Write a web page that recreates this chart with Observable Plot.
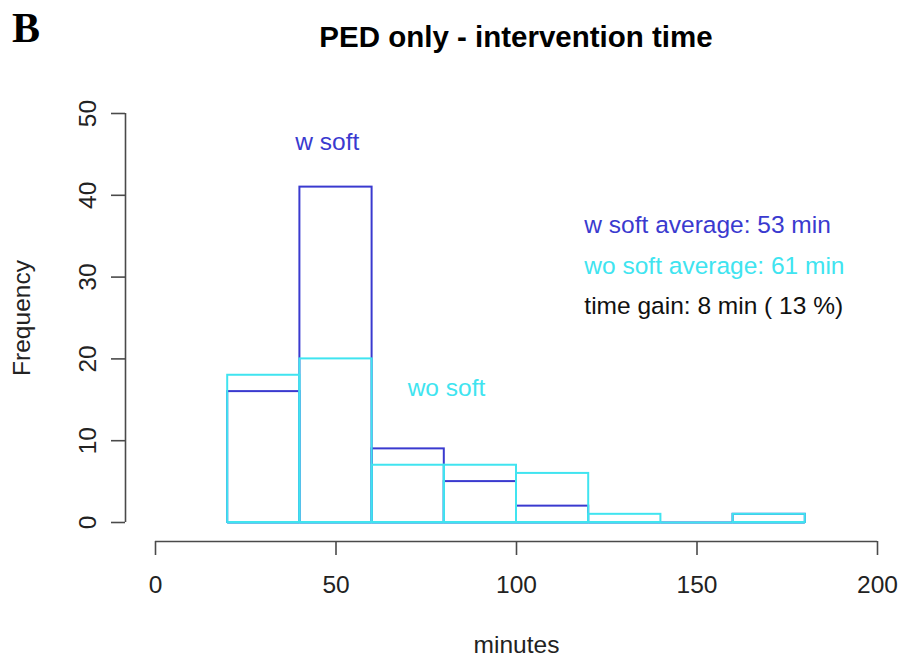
<!DOCTYPE html>
<html><head><meta charset="utf-8">
<script src="https://cdn.jsdelivr.net/npm/d3@7"></script>
<script src="https://cdn.jsdelivr.net/npm/@observablehq/plot@0.6"></script>
<style>
body{margin:0;background:#fff;font-family:"Liberation Sans",Arial,sans-serif;}
#wrap{position:relative;width:902px;height:661px;overflow:hidden;background:#fff}
#hdr{position:relative;height:80px}
#B{position:absolute;left:12px;top:4px;font-family:"Liberation Serif","Times New Roman",serif;font-weight:bold;font-size:42px;line-height:48px;color:#000}
#title{position:absolute;left:155px;width:722px;top:18px;text-align:center;font-weight:bold;font-size:29.5px;line-height:38px;color:#000}
</style></head><body>
<div id="wrap"><div id="hdr"><div id="B">B</div><div id="title">PED only - intervention time</div></div><div id="chart"></div></div>
<script>
const binStart = [20, 40, 60, 80, 100, 120, 140, 160];
const binEnd   = [40, 60, 80, 100, 120, 140, 160, 180];
const wSoft    = [16, 41, 9, 5, 2, 0, 0, 1];
const woSoft   = [18, 20, 7, 7, 6, 1, 0, 1];
const xTicks = [0, 50, 100, 150, 200];
const yTicks = [0, 10, 20, 30, 40, 50];
const annotText = ["w soft", "wo soft", "w soft average: 53 min", "wo soft average: 61 min", "time gain: 8 min ( 13 %)"];
const annotX = [47.6, 80.6, 118.8, 118.8, 118.8];
const annotY = [46.5, 16.4, 36.3, 31.3, 26.5];
const annotSeries = ["w", "wo", "w", "wo", "gain"];

const BLUE = "#3a3acf", CYAN = "#40e4f0", AXIS = "#4a4a4a";
const colorOf = {w: BLUE, wo: CYAN, gain: "#111"};
const FS = 24.5;

const wData = binStart.map((s, i) => ({x1: s, x2: binEnd[i], count: wSoft[i]}));
const woData = binStart.map((s, i) => ({x1: s, x2: binEnd[i], count: woSoft[i]}));
const annots = annotText.map((t, i) => ({text: t, x: annotX[i], y: annotY[i], s: annotSeries[i]}));

const chart = Plot.plot({
  width: 902, height: 581,
  marginTop: 33, marginBottom: 139, marginLeft: 155, marginRight: 25,
  style: {fontFamily: "'Liberation Sans', Arial, sans-serif", background: "white"},
  x: {domain: [xTicks[0], xTicks[xTicks.length - 1]], axis: null},
  y: {domain: [yTicks[0], yTicks[yTicks.length - 1]], axis: null},
  marks: [
    // histogram w soft
    Plot.rect(wData, {x1: "x1", x2: "x2", y1: 0, y2: "count", fill: "none", stroke: BLUE, strokeWidth: 2}),
    Plot.ruleY(wData, {x1: "x1", x2: "x2", y: 0, stroke: BLUE, strokeWidth: 2}),
    // histogram wo soft
    Plot.rect(woData, {x1: "x1", x2: "x2", y1: 0, y2: "count", fill: "none", stroke: CYAN, strokeWidth: 2}),
    Plot.ruleY(woData, {x1: "x1", x2: "x2", y: 0, stroke: CYAN, strokeWidth: 2}),
    // x axis
    Plot.ruleY([yTicks[0]], {x1: xTicks[0], x2: xTicks[xTicks.length - 1], dy: 19, stroke: AXIS, strokeWidth: 1.6}),
    Plot.axisX(xTicks, {tickSize: 14, dy: 19, tickFormat: () => "", stroke: AXIS, strokeWidth: 1.6, label: null}),
    Plot.text(xTicks, {x: d => d, text: d => String(d), frameAnchor: "bottom", dy: 63, lineAnchor: "middle", textAnchor: "middle", fontSize: FS, fill: "#222"}),
    Plot.text(["minutes"], {text: d => d, frameAnchor: "bottom", dy: 123, lineAnchor: "middle", fontSize: FS, fill: "#222"}),
    // y axis
    Plot.ruleX([xTicks[0]], {y1: yTicks[0], y2: yTicks[yTicks.length - 1], dx: -30, stroke: AXIS, strokeWidth: 1.6}),
    Plot.axisY(yTicks, {tickSize: 14, dx: -30, tickFormat: () => "", stroke: AXIS, strokeWidth: 1.6, label: null}),
    Plot.text(yTicks, {y: d => d, text: d => String(d), frameAnchor: "left", dx: -67, rotate: -90, lineAnchor: "middle", textAnchor: "middle", fontSize: FS, fill: "#222"}),
    Plot.text(["Frequency"], {text: d => d, frameAnchor: "left", dx: -133, rotate: -90, lineAnchor: "middle", textAnchor: "middle", fontSize: FS, fill: "#222"}),
    // annotations
    Plot.text(annots.filter(d => d.text === "w soft" || d.text === "wo soft"), {x: "x", y: "y", text: "text", fill: d => colorOf[d.s], fontSize: FS, textAnchor: "middle", lineAnchor: "middle"}),
    Plot.text(annots.filter(d => d.text !== "w soft" && d.text !== "wo soft"), {x: "x", y: "y", text: "text", fill: d => colorOf[d.s], fontSize: FS, textAnchor: "start", lineAnchor: "middle"})
  ]
});
document.getElementById("chart").appendChild(chart);
</script>
</body></html>
